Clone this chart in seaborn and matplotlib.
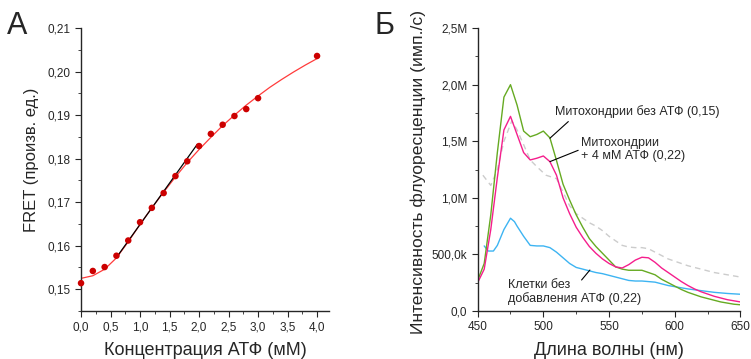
import matplotlib
matplotlib.use("Agg")
import matplotlib.pyplot as plt
import seaborn as sns
import numpy as np
import pandas as pd
from matplotlib.ticker import MultipleLocator, FuncFormatter

# panel A: FRET vs ATP concentration
atp_conc = [0.0, 0.2, 0.4, 0.6, 0.8, 1.0, 1.2, 1.4, 1.6, 1.8, 2.0, 2.2, 2.4, 2.6, 2.8, 3.0, 4.0]
fret = [0.1514, 0.1542, 0.1551, 0.1577, 0.1612, 0.1654, 0.1687, 0.1721, 0.1760,
        0.1794, 0.1829, 0.1857, 0.1878, 0.1898, 0.1914, 0.1939, 0.2036]

fit_x = [0.0, 0.2, 0.4, 0.6, 0.8, 1.0, 1.2, 1.4, 1.6, 1.8, 2.0, 2.2, 2.4, 2.6,
         2.8, 3.0, 3.2, 3.4, 3.6, 3.8, 4.0]
fit_y = [0.1525, 0.1531, 0.1546, 0.1572, 0.1609, 0.1649, 0.1687, 0.1723, 0.1758,
         0.1791, 0.1821, 0.1849, 0.1876, 0.1900, 0.1923, 0.1944, 0.1964, 0.1982,
         0.1999, 0.2015, 0.2030]

lin_x = [0.6, 1.97]
lin_y = [0.1573, 0.1833]

# panel B: emission spectra (values in M counts/s)
wl_green = [450, 455, 460, 465, 470, 475, 480, 485, 490, 495, 500, 505, 510, 515, 520,
            525, 530, 535, 540, 545, 550, 555, 560, 565, 570, 575, 580, 585, 590, 595,
            600, 605, 610, 615, 620, 625, 630, 635, 640, 645, 650]
mito_no_atp = [0.27, 0.42, 0.85, 1.40, 1.89, 2.00, 1.82, 1.59, 1.54, 1.56, 1.59, 1.53,
               1.33, 1.12, 0.98, 0.85, 0.74, 0.64, 0.57, 0.51, 0.45, 0.39, 0.37, 0.36,
               0.36, 0.36, 0.34, 0.32, 0.28, 0.25, 0.22, 0.19, 0.165, 0.145, 0.125,
               0.11, 0.095, 0.08, 0.07, 0.06, 0.055]

wl_pink = wl_green
mito_atp = [0.25, 0.37, 0.72, 1.18, 1.60, 1.72, 1.56, 1.40, 1.335, 1.35, 1.37, 1.32,
            1.20, 1.00, 0.86, 0.74, 0.65, 0.57, 0.51, 0.46, 0.42, 0.39, 0.38, 0.41,
            0.45, 0.475, 0.47, 0.43, 0.38, 0.34, 0.30, 0.26, 0.225, 0.195, 0.17,
            0.15, 0.13, 0.115, 0.10, 0.09, 0.08]

wl_blue = [455, 458, 462, 465, 470, 475, 478, 480, 485, 490, 495, 500, 505, 510, 515,
           520, 525, 530, 535, 540, 545, 550, 555, 560, 565, 570, 575, 580, 585, 590,
           595, 600, 610, 620, 630, 640, 650]
cells_no_atp = [0.575, 0.53, 0.53, 0.58, 0.72, 0.82, 0.79, 0.75, 0.66, 0.58, 0.575,
                0.575, 0.56, 0.52, 0.47, 0.42, 0.385, 0.37, 0.355, 0.34, 0.33, 0.315,
                0.30, 0.285, 0.27, 0.265, 0.265, 0.26, 0.255, 0.24, 0.225, 0.215,
                0.195, 0.18, 0.165, 0.155, 0.148]

wl_gray = [454, 460, 465, 470, 476, 480, 485, 490, 495, 502, 510, 515, 520, 525, 530,
           535, 540, 545, 550, 555, 560, 565, 570, 575, 580, 585, 590, 595, 600, 610,
           620, 630, 640, 650]
reference = [1.20, 1.11, 1.25, 1.50, 1.68, 1.60, 1.47, 1.335, 1.276, 1.20, 1.17, 1.05,
             0.93, 0.86, 0.82, 0.78, 0.75, 0.71, 0.66, 0.62, 0.58, 0.565, 0.56, 0.56,
             0.55, 0.52, 0.49, 0.46, 0.44, 0.40, 0.37, 0.34, 0.32, 0.30]

sns.set_style("ticks")
plt.rcParams['font.family'] = ['Liberation Sans', 'DejaVu Sans']
plt.rcParams['axes.linewidth'] = 1.0
plt.rcParams['xtick.major.size'] = 4
plt.rcParams['ytick.major.size'] = 4
plt.rcParams['xtick.minor.size'] = 2.5
plt.rcParams['ytick.minor.size'] = 2.5
plt.rcParams['xtick.labelsize'] = 8.5
plt.rcParams['ytick.labelsize'] = 8.5

fig = plt.figure(figsize=(7.51, 3.59), dpi=100)
ax1 = fig.add_axes([0.1079, 0.1337, 0.330, 0.788])
ax2 = fig.add_axes([0.636, 0.1337, 0.350, 0.788])

comma = lambda fmt: FuncFormatter(lambda v, p: (fmt % v).replace('.', ','))

# ---- panel A
sns.lineplot(x=fit_x, y=fit_y, ax=ax1, color='#ff3b3b', linewidth=0.9)
sns.lineplot(x=lin_x, y=lin_y, ax=ax1, color='black', linewidth=0.9)
sns.scatterplot(x=atp_conc, y=fret, ax=ax1, color='#cc0000', s=22, edgecolor='none',
                zorder=3, clip_on=False)
ax1.set_xlim(0, 4.2)
ax1.set_ylim(0.145, 0.21)
ax1.xaxis.set_major_locator(MultipleLocator(0.5))
ax1.xaxis.set_minor_locator(MultipleLocator(0.25))
ax1.yaxis.set_major_locator(MultipleLocator(0.01))
ax1.yaxis.set_minor_locator(MultipleLocator(0.005))
ax1.xaxis.set_major_formatter(comma('%.1f'))
ax1.yaxis.set_major_formatter(comma('%.2f'))
ax1.set_xlabel('Концентрация АТФ (мМ)', fontsize=13, labelpad=6)
ax1.set_ylabel('FRET (произв. ед.)', fontsize=12)
ax1.yaxis.set_label_coords(-0.168, 0.534)
sns.despine(ax=ax1)

# ---- panel B
sns.lineplot(x=wl_gray, y=reference, ax=ax2, color='#cccccc', linewidth=1.0,
             linestyle=(0, (4, 3)))
sns.lineplot(x=wl_blue, y=cells_no_atp, ax=ax2, color='#3db4f2', linewidth=1.0)
sns.lineplot(x=wl_green, y=mito_no_atp, ax=ax2, color='#66aa22', linewidth=1.0)
sns.lineplot(x=wl_pink, y=mito_atp, ax=ax2, color='#f51e8c', linewidth=1.0)
ax2.set_xlim(450, 650)
ax2.set_ylim(0, 2.5)
ax2.xaxis.set_major_locator(MultipleLocator(50))
ax2.xaxis.set_minor_locator(MultipleLocator(25))
ax2.yaxis.set_major_locator(MultipleLocator(0.5))
ax2.yaxis.set_minor_locator(MultipleLocator(0.25))
ylabels_b = {0.0: '0,0', 0.5: '500,0k', 1.0: '1,0M', 1.5: '1,5M', 2.0: '2,0M', 2.5: '2,5M'}
ax2.yaxis.set_major_formatter(FuncFormatter(lambda v, p: ylabels_b.get(round(v, 2), '')))
ax2.set_xlabel('Длина волны (нм)', fontsize=13, labelpad=6)
ax2.set_ylabel('Интенсивность флуоресценции (имп./с)', fontsize=12.6)
ax2.yaxis.set_label_coords(-0.195, 0.49)
sns.despine(ax=ax2)

line_kw = dict(arrowstyle='-', color='black', lw=0.8, shrinkA=0, shrinkB=0)
ax2.text(509, 1.76, 'Митохондрии без АТФ (0,15)', fontsize=9, ha='left', va='center')
ax2.annotate('', xy=(505, 1.527), xytext=(519, 1.674), arrowprops=line_kw)
ax2.text(528.5, 1.43, 'Митохондрии\n+ 4 мМ АТФ (0,22)', fontsize=9, ha='left',
         va='center', linespacing=1.1)
ax2.annotate('', xy=(505, 1.32), xytext=(526.5, 1.42), arrowprops=line_kw)
ax2.text(473, 0.168, 'Клетки без\nдобавления АТФ (0,22)', fontsize=9, ha='left',
         va='center', linespacing=1.1)
ax2.annotate('', xy=(535.4, 0.362), xytext=(529.1, 0.274), arrowprops=line_kw)

fig.text(0.009, 0.905, 'А', fontsize=22)
fig.text(0.499, 0.905, 'Б', fontsize=22)

fig.savefig('out.png', dpi=100)
